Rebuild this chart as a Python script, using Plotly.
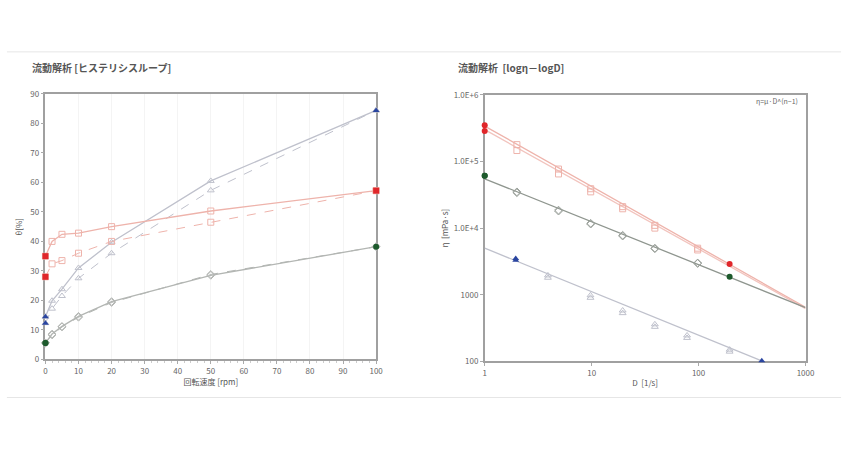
import plotly.graph_objects as go

# ---------- Left chart data: hysteresis loop ----------
rpm = [0, 2, 5, 10, 20, 50, 100]
red_up = [35, 40, 42.4, 42.8, 45, 50.3, 57.2]
red_down = [28, 32.4, 33.5, 36, 40, 46.5, 57.2]
blue_up = [14.5, 19.9, 23.8, 31, 39.7, 60.5, 84.4]
blue_down = [12.3, 17.2, 21.5, 27.5, 36, 57.3, 84.4]
green_up = [5.6, 8.6, 11.2, 14.6, 19.6, 28.5, 38.2]
green_down = [5.6, 8.3, 11.0, 14.3, 19.3, 28.8, 38.2]

# ---------- Right chart data: log(eta) - log(D) ----------
D_rg = [1, 2, 4.9, 9.8, 19.5, 39, 98, 195]
red_eta_up = [351000, 179000, 77000, 39000, 21000, 11000, 5000, 2900]
red_eta_down = [287000, 146000, 65000, 35000, 19500, 10000, 4700, 2900]
green_eta_up = [61000, 35000, 18600, 11800, 7800, 5000, 3000, 1870]
green_eta_down = [61000, 34000, 18000, 11500, 7600, 4900, 2950, 1870]
D_blue = [1.95, 3.9, 9.75, 19.5, 39, 78, 195, 390]
blue_eta_up = [3500, 1950, 980, 580, 360, 245, 150, 102]
blue_eta_down = [3300, 1800, 900, 530, 330, 225, 140, 102]

fit_D_red = [1, 1000]
fit_red = [340000, 650]
fit_D_red2 = [1, 1000]
fit_red2 = [300000, 620]
fit_D_green = [1, 1000]
fit_green = [55000, 640]
fit_D_blue = [1, 400]
fit_blue = [5000, 100]

y_ticks_right = [100, 1000, 10000, 100000, 1000000]
y_ticktext_right = ["100", "1000", "1.0E+4", "1.0E+5", "1.0E+6"]

RED_L = "#eeb3ab"
BLUE_L = "#bfc1cc"
GREEN_L = "#b3b6b3"
RED_F = "#e0262a"
BLUE_F = "#2a45a0"
GREEN_F = "#1d5a2c"

fig = go.Figure()

def add_loop(x, up, down, lc, sym, fcol, fsym):
    fig.add_trace(go.Scatter(x=x, y=up, mode="lines+markers", xaxis="x", yaxis="y",
                             line=dict(color=lc, width=1.3), cliponaxis=False,
                             marker=dict(symbol=sym, size=6, color=lc, line=dict(color=lc, width=1))))
    fig.add_trace(go.Scatter(x=x, y=down, mode="lines+markers", xaxis="x", yaxis="y",
                             line=dict(color=lc, width=1, dash="dash"), cliponaxis=False,
                             marker=dict(symbol=sym, size=6, color=lc, line=dict(color=lc, width=1))))
    fig.add_trace(go.Scatter(x=[x[0], x[0], x[-1]], y=[up[0], down[0], up[-1]], mode="markers",
                             xaxis="x", yaxis="y", cliponaxis=False,
                             marker=dict(symbol=fsym, size=6, color=fcol)))

add_loop(rpm, blue_up, blue_down, BLUE_L, "triangle-up-open", BLUE_F, "triangle-up")
add_loop(rpm, green_up, green_down, GREEN_L, "diamond-open", GREEN_F, "circle")
add_loop(rpm, red_up, red_down, RED_L, "square-open", RED_F, "square")

def add_fit(fx, fy, lc):
    fig.add_trace(go.Scatter(x=fx, y=fy, mode="lines", xaxis="x2", yaxis="y2",
                             line=dict(color=lc, width=1.3)))

def add_log(Dx, up, down, lc, sym, fcol, fsym):
    for s in (up, down):
        fig.add_trace(go.Scatter(x=Dx[1:-1], y=s[1:-1], mode="markers", xaxis="x2", yaxis="y2",
                                 cliponaxis=False,
                                 marker=dict(symbol=sym, size=6, color=lc, line=dict(color=lc, width=1))))
    fig.add_trace(go.Scatter(x=[Dx[0], Dx[0], Dx[-1]], y=[up[0], down[0], up[-1]], mode="markers",
                             xaxis="x2", yaxis="y2", cliponaxis=False,
                             marker=dict(symbol=fsym, size=6, color=fcol)))

add_fit(fit_D_red2, fit_red2, "#f2c4be")
add_fit(fit_D_red, fit_red, RED_L)
add_fit(fit_D_green, fit_green, "#8f968f")
add_fit(fit_D_blue, fit_blue, BLUE_L)
add_log(D_rg, red_eta_up, red_eta_down, RED_L, "square-open", RED_F, "circle")
add_log(D_rg, green_eta_up, green_eta_down, "#9aa09a", "diamond-open", GREEN_F, "circle")
add_log(D_blue, blue_eta_up, blue_eta_down, BLUE_L, "triangle-up-open", BLUE_F, "triangle-up")

W, H = 855, 465
tickfont = dict(family="Noto Sans CJK JP", size=8, color="#666")
axis_common = dict(showline=True, linecolor="#a0a0a0", linewidth=1.5, mirror=True,
                   ticks="outside", ticklen=3, tickcolor="#aaa", tickfont=tickfont,
                   zeroline=False, layer="below traces")

fig.update_layout(
    width=W, height=H, margin=dict(l=0, r=0, t=0, b=0),
    paper_bgcolor="white", plot_bgcolor="white", showlegend=False,
    font=dict(family="Noto Sans CJK JP", color="#555"),
    xaxis=dict(domain=[44 / W, 379 / W], range=[0, 100], tickvals=list(range(0, 101, 10)),
               showgrid=True, gridcolor="#f4f4f4", anchor="y",
               minor=dict(ticks="outside", ticklen=2, dtick=2, tickcolor="#ccc"),
               title=dict(text="回転速度 [rpm]", font=dict(size=8, color="#555"), standoff=2),
               **axis_common),
    yaxis=dict(domain=[(H - 362) / H, (H - 90) / H], range=[0, 90], tickvals=list(range(0, 91, 10)),
               showgrid=False, anchor="x",
               title=dict(text="θ[%]", font=dict(size=8, color="#555"), standoff=6),
               **axis_common),
    xaxis2=dict(domain=[489 / W, 814 / W], type="log", range=[0, 3],
                tickvals=[1, 10, 100, 1000], ticktext=["1", "10", "100", "1000"],
                showgrid=False, anchor="y2",
                title=dict(text="D  [1/s]", font=dict(size=8, color="#555"), standoff=4),
                **axis_common),
    yaxis2=dict(domain=[(H - 364) / H, (H - 91) / H], type="log", range=[2, 6],
                tickvals=y_ticks_right, ticktext=y_ticktext_right,
                showgrid=False, anchor="x2",
                title=dict(text="η  [mPa·s]", font=dict(size=8, color="#555"), standoff=4),
                **axis_common),
    annotations=[
        dict(text="<b>流動解析 [ヒステリシスループ]</b>", x=28 / W, y=(H - 63) / H, xref="paper", yref="paper",
             xanchor="left", yanchor="middle", showarrow=False,
             font=dict(size=10, color="#555")),
        dict(text="<b>流動解析  [logη－logD]</b>", x=460 / W, y=(H - 63) / H, xref="paper", yref="paper",
             xanchor="left", yanchor="middle", showarrow=False,
             font=dict(size=10, color="#555")),
        dict(text="η=μ·D^(n−1)", x=808 / W, y=(H - 97) / H, xref="paper", yref="paper",
             xanchor="right", yanchor="middle", showarrow=False,
             font=dict(size=7, color="#666")),
    ],
    shapes=[
        dict(type="line", xref="paper", yref="paper", x0=5 / W, x1=850 / W,
             y0=(H - 47) / H, y1=(H - 47) / H, line=dict(color="#e6e6e6", width=1)),
        dict(type="line", xref="paper", yref="paper", x0=5 / W, x1=850 / W,
             y0=(H - 401) / H, y1=(H - 401) / H, line=dict(color="#e6e6e6", width=1)),
    ],
)

fig.write_html("out.html")
